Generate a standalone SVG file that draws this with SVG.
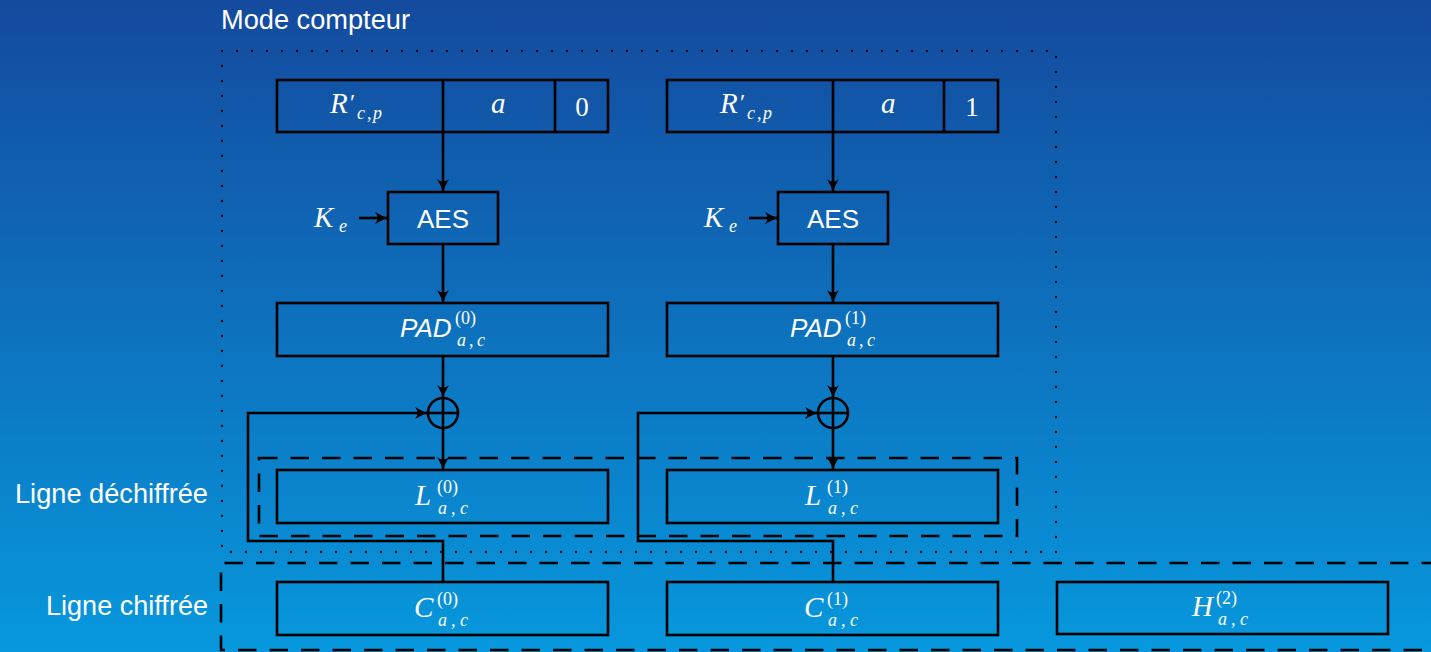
<svg xmlns="http://www.w3.org/2000/svg" width="1431" height="652" viewBox="0 0 1431 652">
<defs>
<linearGradient id="bg" x1="0" y1="0" x2="0" y2="1">
<stop offset="0" stop-color="#144a9e"/>
<stop offset="1" stop-color="#0798dd"/>
</linearGradient>
<marker id="ah" markerUnits="userSpaceOnUse" viewBox="-14 -7 15 14" markerWidth="15" markerHeight="14" refX="0" refY="0" orient="auto">
<path d="M0,0 Q-6,-1.8 -13,-6 Q-8,0 -13,6 Q-6,1.8 0,0Z" fill="#000"/>
</marker>
</defs>
<style>
.box{fill:none;stroke:#000;stroke-width:2.6}
.ln{fill:none;stroke:#000;stroke-width:2.6}
.arr{fill:none;stroke:#000;stroke-width:2.6;marker-end:url(#ah)}
.dot{fill:none;stroke:#000;stroke-width:2.3;stroke-dasharray:0 15;stroke-linecap:round}
.dash{fill:none;stroke:#000;stroke-width:2.6;stroke-dasharray:18.5 13}
.sans{font-family:"Liberation Sans",Arial,sans-serif;fill:#fff;font-size:26px}
.lab{font-family:"Liberation Sans",Arial,sans-serif;fill:#fff;font-size:27px}
.mt{font-family:"Liberation Serif","Times New Roman",serif;fill:#fff}
.m{font-size:29px;font-style:italic}
.mu{font-size:27px;font-style:normal}
.s{font-size:18px;font-style:italic}
.su{font-size:18px;font-style:normal}
.pr{font-size:24px;font-style:normal}
.ps{font-family:"Liberation Sans",Arial,sans-serif;font-size:26px;font-style:italic}
</style>
<rect x="0" y="0" width="1431" height="652" fill="url(#bg)"/>

<g id="labels">
<text class="lab" x="221" y="29" textLength="189" lengthAdjust="spacingAndGlyphs">Mode compteur</text>
<text class="lab" x="15" y="503" textLength="193" lengthAdjust="spacingAndGlyphs">Ligne déchiffrée</text>
<text class="lab" x="46" y="615" textLength="162" lengthAdjust="spacingAndGlyphs">Ligne chiffrée</text>
</g>

<g id="regions">
<rect class="dot" x="222" y="51" width="834" height="501"/>
<path class="dash" d="M1440,563 H221 V650 H1440"/>
<rect class="dash" x="259" y="458" width="758" height="78"/>
</g>

<g id="counter0">
<rect class="box" x="277" y="80" width="331" height="52"/>
<line class="ln" x1="443" y1="80" x2="443" y2="132"/>
<line class="ln" x1="555" y1="80" x2="555" y2="132"/>
<text class="mt"><tspan class="m" x="330" y="113">R</tspan><tspan class="pr" x="350" y="110">′</tspan><tspan class="s" x="357" y="119">c</tspan><tspan class="s" x="367" y="119">,</tspan><tspan class="s" x="373" y="119">p</tspan></text>
<text class="mt m" x="491" y="113">a</text>
<text class="mt mu" x="582" y="116" text-anchor="middle">0</text>
</g>

<g id="counter1">
<rect class="box" x="667" y="80" width="331" height="52"/>
<line class="ln" x1="833" y1="80" x2="833" y2="132"/>
<line class="ln" x1="944" y1="80" x2="944" y2="132"/>
<text class="mt"><tspan class="m" x="720" y="113">R</tspan><tspan class="pr" x="740" y="110">′</tspan><tspan class="s" x="747" y="119">c</tspan><tspan class="s" x="757" y="119">,</tspan><tspan class="s" x="763" y="119">p</tspan></text>
<text class="mt m" x="881" y="113">a</text>
<text class="mt mu" x="972" y="116" text-anchor="middle">1</text>
</g>

<g id="key0">
<text class="mt"><tspan class="m" x="314" y="227">K</tspan><tspan class="s" x="339" y="232">e</tspan></text>
</g>
<g id="key1">
<text class="mt"><tspan class="m" x="704" y="227">K</tspan><tspan class="s" x="729" y="232">e</tspan></text>
</g>

<g id="aes0">
<rect class="box" x="388" y="192" width="110" height="52"/>
<text class="sans" x="443" y="228" text-anchor="middle">AES</text>
</g>
<g id="aes1">
<rect class="box" x="778" y="192" width="110" height="52"/>
<text class="sans" x="833" y="228" text-anchor="middle">AES</text>
</g>

<g id="pad0">
<rect class="box" x="277" y="303" width="331" height="53"/>
<text class="mt"><tspan class="ps" x="400" y="337">PAD</tspan><tspan class="su" x="455" y="324">(0)</tspan><tspan class="s" x="457" y="346">a</tspan><tspan class="s" x="469" y="346">,</tspan><tspan class="s" x="477" y="346">c</tspan></text>
</g>
<g id="pad1">
<rect class="box" x="667" y="303" width="331" height="53"/>
<text class="mt"><tspan class="ps" x="790" y="337">PAD</tspan><tspan class="su" x="845" y="324">(1)</tspan><tspan class="s" x="847" y="346">a</tspan><tspan class="s" x="859" y="346">,</tspan><tspan class="s" x="867" y="346">c</tspan></text>
</g>

<g id="xor0">
<circle class="ln" cx="443" cy="413" r="15"/>
<line class="ln" x1="428" y1="413" x2="458" y2="413"/>
<line class="ln" x1="443" y1="398" x2="443" y2="428"/>
</g>
<g id="xor1">
<circle class="ln" cx="833" cy="413" r="15"/>
<line class="ln" x1="818" y1="413" x2="848" y2="413"/>
<line class="ln" x1="833" y1="398" x2="833" y2="428"/>
</g>

<g id="l0">
<rect class="box" x="277" y="470" width="331" height="53"/>
<text class="mt"><tspan class="m" x="415" y="505">L</tspan><tspan class="su" x="437" y="493">(0)</tspan><tspan class="s" x="438" y="514">a</tspan><tspan class="s" x="451" y="514">,</tspan><tspan class="s" x="460" y="514">c</tspan></text>
</g>
<g id="l1">
<rect class="box" x="667" y="470" width="331" height="53"/>
<text class="mt"><tspan class="m" x="805" y="505">L</tspan><tspan class="su" x="827" y="493">(1)</tspan><tspan class="s" x="828" y="514">a</tspan><tspan class="s" x="841" y="514">,</tspan><tspan class="s" x="850" y="514">c</tspan></text>
</g>

<g id="c0">
<rect class="box" x="277" y="582" width="331" height="53"/>
<text class="mt"><tspan class="m" x="414" y="617">C</tspan><tspan class="su" x="437" y="605">(0)</tspan><tspan class="s" x="438" y="626">a</tspan><tspan class="s" x="451" y="626">,</tspan><tspan class="s" x="460" y="626">c</tspan></text>
</g>
<g id="c1">
<rect class="box" x="667" y="582" width="331" height="53"/>
<text class="mt"><tspan class="m" x="804" y="617">C</tspan><tspan class="su" x="827" y="605">(1)</tspan><tspan class="s" x="828" y="626">a</tspan><tspan class="s" x="841" y="626">,</tspan><tspan class="s" x="850" y="626">c</tspan></text>
</g>
<g id="h2">
<rect class="box" x="1057" y="582" width="331" height="52"/>
<text class="mt"><tspan class="m" x="1192" y="616">H</tspan><tspan class="su" x="1216" y="604">(2)</tspan><tspan class="s" x="1218" y="625">a</tspan><tspan class="s" x="1231" y="625">,</tspan><tspan class="s" x="1240" y="625">c</tspan></text>
</g>

<g id="connectors">
<line class="arr" x1="443" y1="132" x2="443" y2="192"/>
<line class="arr" x1="359" y1="218" x2="388" y2="218"/>
<line class="arr" x1="443" y1="244" x2="443" y2="303"/>
<line class="arr" x1="443" y1="356" x2="443" y2="398"/>
<line class="arr" x1="443" y1="428" x2="443" y2="470"/>
<path class="arr" d="M443,582 V541 H248 V413 H428"/>
<line class="arr" x1="833" y1="132" x2="833" y2="192"/>
<line class="arr" x1="749" y1="218" x2="778" y2="218"/>
<line class="arr" x1="833" y1="244" x2="833" y2="303"/>
<line class="arr" x1="833" y1="356" x2="833" y2="398"/>
<line class="arr" x1="833" y1="428" x2="833" y2="470"/>
<path class="arr" d="M833,582 V541 H638 V413 H818"/>
</g>
</svg>
